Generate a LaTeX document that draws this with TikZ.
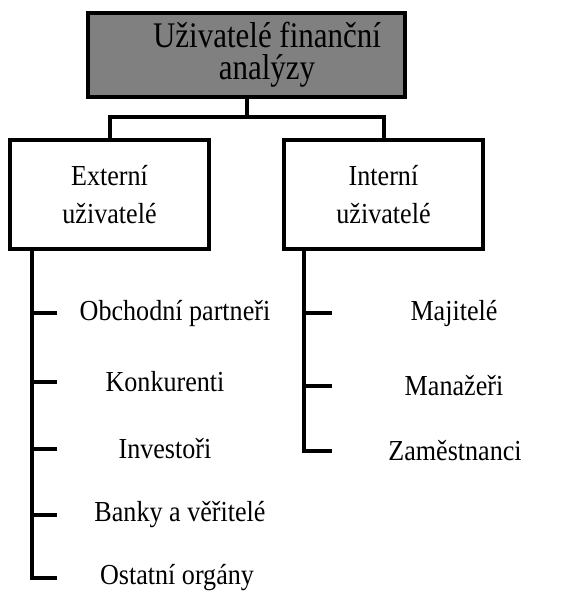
\documentclass[tikz,border=0pt]{standalone}
\usepackage{fontspec}
\setmainfont{Liberation Serif}
\newfontfamily\tallfont[FakeStretch=0.9]{Liberation Serif}
\newfontfamily\titlefont[FakeStretch=0.86]{Liberation Serif}
\usepackage[dvipsnames]{xcolor}
\definecolor{boxgray}{RGB}{128,128,128}

\begin{document}
\begin{tikzpicture}[x=1pt,y=-1pt,line width=4pt,
    main node/.style={rectangle,draw,inner sep=0pt,align=center,font=\tallfont\fontsize{29}{38}\selectfont,minimum width=199pt,minimum height=109pt},
    item node/.style={inner sep=0pt,font=\tallfont\fontsize{29}{30}\selectfont}]
            \useasboundingbox (0,0) rectangle (570,592);

            \node[draw, fill=boxgray, inner sep=0pt, align=center, minimum width=317pt, minimum height=84pt, font=\titlefont\fontsize{36}{32}\selectfont] (0) at (246.5,55) {\hspace*{41pt}Uživatelé finanční\\\hspace*{41pt}analýzy};
            \node[main node] (1) at (109.5,194.5) {Externí\\uživatelé};
            \node[main node] (2) at (383.5,194.5) {Interní\\uživatelé};

            \node[item node] (3) at (175,313) {Obchodní partneři};
            \node[item node] (4) at (165,382) {Konkurenti};
            \node[item node] (5) at (165,449) {Investoři};
            \node[item node] (6) at (180,515) {Banky a věřitelé};
            \node[item node] (7) at (177,578) {Ostatní orgány};

            \node[item node] (8) at (454,313) {Majitelé};
            \node[item node] (9) at (454,386) {Manažeři};
            \node[item node] (10) at (455,451) {Zaměstnanci};

            \coordinate (j) at (246.5,117);
            \coordinate (a) at (32,313);
            \coordinate (c) at (57,313);
            \coordinate (b) at (304,313);
            \coordinate (d) at (332,313);

            \path[draw]
                (0.south) -- (j)
                (1.north) |- (j) -| (2.north)
                (1.south -| a) |- (7 -| c)
                (2.south -| b) |- (10 -| d)
                (3 -| a) -- (3 -| c)
                (4 -| a) -- (4 -| c)
                (5 -| a) -- (5 -| c)
                (6 -| a) -- (6 -| c)
                (8 -| b) -- (8 -| d)
                (9 -| b) -- (9 -| d)
                ;
        \end{tikzpicture}
\end{document}
